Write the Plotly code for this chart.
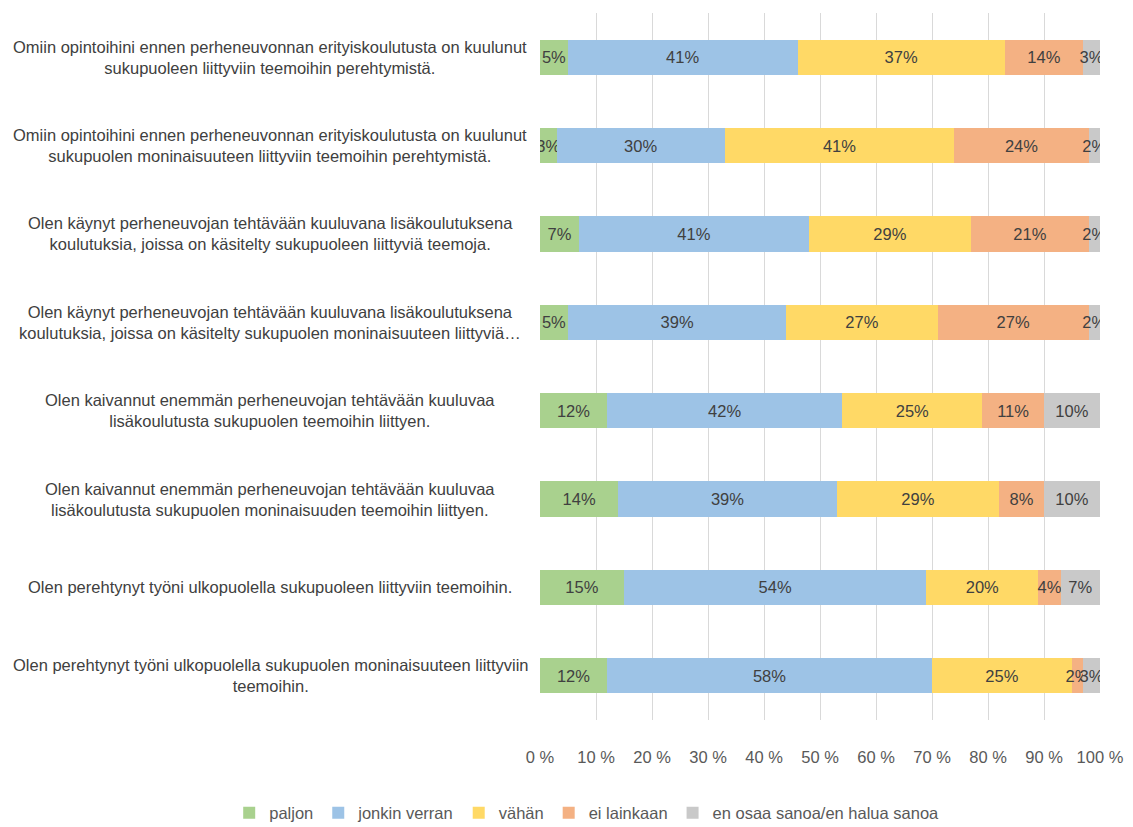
import plotly.graph_objects as go

categories = [
    'Omiin opintoihini ennen perheneuvonnan erityiskoulutusta on kuulunut<br>sukupuoleen liittyviin teemoihin perehtymistä.',
    'Omiin opintoihini ennen perheneuvonnan erityiskoulutusta on kuulunut<br>sukupuolen moninaisuuteen liittyviin teemoihin perehtymistä.',
    'Olen käynyt perheneuvojan tehtävään kuuluvana lisäkoulutuksena<br>koulutuksia, joissa on käsitelty sukupuoleen liittyviä teemoja.',
    'Olen käynyt perheneuvojan tehtävään kuuluvana lisäkoulutuksena<br>koulutuksia, joissa on käsitelty sukupuolen moninaisuuteen liittyviä…',
    'Olen kaivannut enemmän perheneuvojan tehtävään kuuluvaa<br>lisäkoulutusta sukupuolen teemoihin liittyen.',
    'Olen kaivannut enemmän perheneuvojan tehtävään kuuluvaa<br>lisäkoulutusta sukupuolen moninaisuuden teemoihin liittyen.',
    'Olen perehtynyt työni ulkopuolella sukupuoleen liittyviin teemoihin.',
    'Olen perehtynyt työni ulkopuolella sukupuolen moninaisuuteen liittyviin<br>teemoihin.',
]
ids = list(range(len(categories)))

paljon = [5, 3, 7, 5, 12, 14, 15, 12]
jonkin_verran = [41, 30, 41, 39, 42, 39, 54, 58]
vahan = [37, 41, 29, 27, 25, 29, 20, 25]
ei_lainkaan = [14, 24, 21, 27, 11, 8, 4, 2]
en_osaa = [3, 2, 2, 2, 10, 10, 7, 3]

series = [
    ('paljon', paljon, '#A9D18E'),
    ('jonkin verran', jonkin_verran, '#9DC3E6'),
    ('vähän', vahan, '#FFD966'),
    ('ei lainkaan', ei_lainkaan, '#F4B183'),
    ('en osaa sanoa/en halua sanoa', en_osaa, '#C9C9C9'),
]

FONT = 'Liberation Sans, Arial, sans-serif'
FS = 16.5

fig = go.Figure()
for name, vals, color in series:
    fig.add_trace(go.Bar(
        y=ids, x=vals, name=name, orientation='h',
        marker=dict(color=color, line=dict(width=0)),
        text=[f'{v}%' for v in vals],
        textposition='inside', insidetextanchor='middle',
        textangle=0, constraintext='none',
        textfont=dict(family=FONT, size=FS, color='#404040'),
    ))

# category labels, centred in the left margin like the original
for i, cat in enumerate(categories):
    fig.add_annotation(
        xref='paper', yref='y', x=0, y=i, xshift=-270,
        xanchor='center', yanchor='middle', align='center',
        text=cat, showarrow=False,
        font=dict(family=FONT, size=FS, color='#404040'),
    )

# page body adds an 8px offset, so the figure is a bit smaller than the window
fig.update_layout(
    barmode='stack', bargap=0.6,
    width=1125, height=819,
    margin=dict(l=532, r=33, t=5, b=107, autoexpand=False),
    plot_bgcolor='white', paper_bgcolor='white',
    font=dict(family=FONT, size=FS, color='#595959'),
    xaxis=dict(range=[0, 100], dtick=10, ticksuffix=' %', showgrid=True,
               gridcolor='#D9D9D9', gridwidth=1, zeroline=False,
               showline=False, ticklabelstandoff=25, automargin=False,
               tickfont=dict(family=FONT, size=FS, color='#595959')),
    yaxis=dict(autorange='reversed', showticklabels=False, showgrid=False,
               zeroline=False, showline=False, automargin=False),
    legend=dict(orientation='h', xref='paper', yref='paper',
                x=-0.555, xanchor='left', y=-0.1315, yanchor='middle',
                font=dict(family=FONT, size=FS, color='#595959'),
                itemwidth=30, traceorder='normal'),
    showlegend=True,
)

fig.write_html('out.html')
